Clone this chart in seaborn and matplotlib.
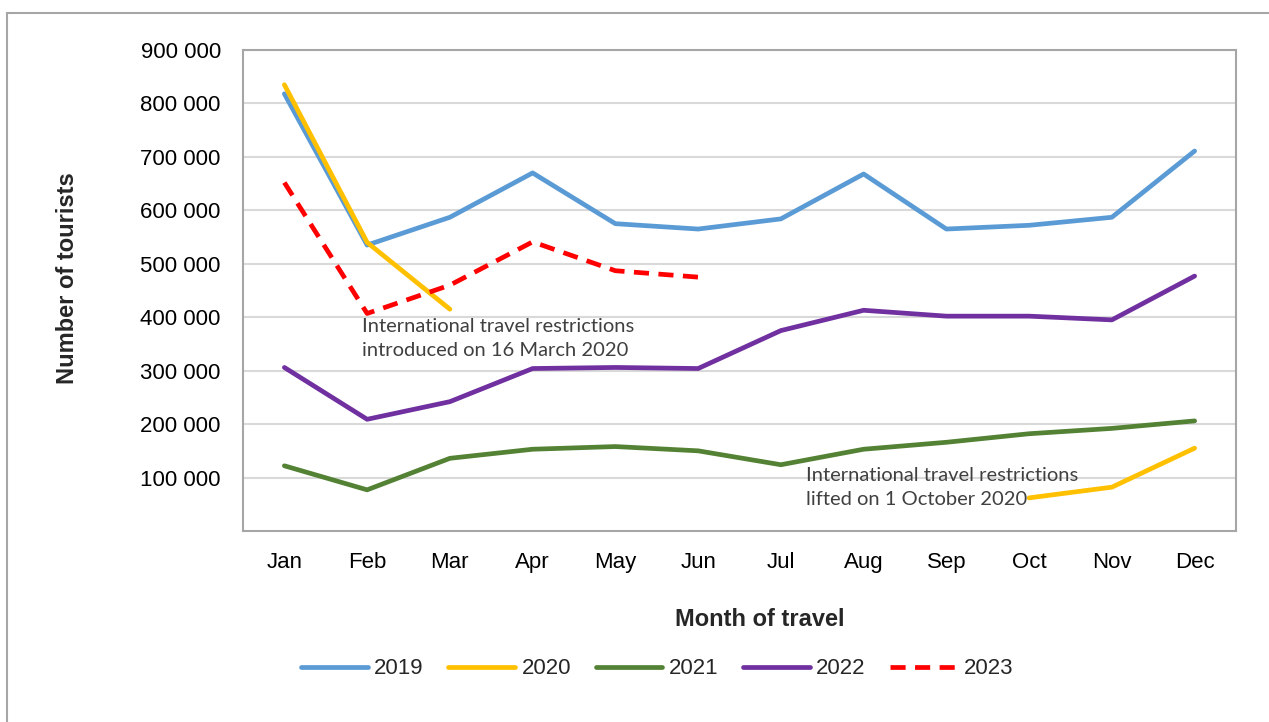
import matplotlib.pyplot as plt
import matplotlib.patches as mpatches
from matplotlib.lines import Line2D
import numpy as np
import pandas as pd
import seaborn as sns

# 月別の観光客数
months = ['Jan', 'Feb', 'Mar', 'Apr', 'May', 'Jun', 'Jul', 'Aug', 'Sep', 'Oct', 'Nov', 'Dec']
years = ['2019', '2020', '2021', '2022', '2023']

tourists_2019 = [818000, 535000, 587000, 670000, 575000, 565000, 584000, 668000, 565000, 572000, 587000, 711000]
tourists_2020 = [835000, 540000, 415000, np.nan, np.nan, np.nan, np.nan, np.nan, np.nan, 62000, 82000, 155000]
tourists_2021 = [122000, 77000, 136000, 153000, 158000, 150000, 124000, 153000, 166000, 182000, 192000, 206000]
tourists_2022 = [306000, 209000, 242000, 304000, 306000, 304000, 375000, 413000, 402000, 402000, 395000, 477000]
tourists_2023 = [652000, 407000, 460000, 541000, 487000, 475000, np.nan, np.nan, np.nan, np.nan, np.nan, np.nan]

series = {
    '2019': tourists_2019,
    '2020': tourists_2020,
    '2021': tourists_2021,
    '2022': tourists_2022,
    '2023': tourists_2023,
}
colors = {'2019': '#5B9BD5', '2020': '#FFC000', '2021': '#548235', '2022': '#7030A0', '2023': '#FF0000'}
dash_2023 = (3.2, 2.0)

# ロング形式に変換（欠損で区切ってセグメント番号を付ける）
rows = []
for year, vals in series.items():
    seg = 0
    prev_nan = False
    for i, v in enumerate(vals):
        if np.isnan(v):
            prev_nan = True
            continue
        if prev_nan:
            seg += 1
            prev_nan = False
        rows.append({'year': year, 'month': i, 'tourists': v, 'seg': f'{year}_{seg}'})
df = pd.DataFrame(rows)

sns.set_style('white')
plt.rcParams['font.family'] = ['Liberation Sans', 'DejaVu Sans']

fig = plt.figure(figsize=(12.69, 7.22), dpi=100)
ax = fig.add_axes([243 / 1269, 1 - 531 / 722, (1236 - 243) / 1269, (531 - 50) / 722])

for seg_id, seg_df in df.groupby('seg', sort=False):
    year = seg_df['year'].iloc[0]
    line_kw = dict(color=colors[year], linewidth=3.4, solid_capstyle='round')
    line_kw['dashes'] = dash_2023 if year == '2023' else ''
    sns.lineplot(data=seg_df, x='month', y='tourists', ax=ax, legend=False, zorder=3, **line_kw)

ax.set_xlim(-0.5, 11.5)
ax.set_ylim(0, 900000)
ax.set_xticks(range(12))
ax.set_xticklabels(months)
ax.set_yticks(np.arange(100000, 900001, 100000))
ax.set_yticklabels([f'{v // 1000} 000' for v in range(100000, 900001, 100000)])
ax.tick_params(axis='both', length=0, labelsize=16, colors='black')
ax.tick_params(axis='y', pad=16)
ax.tick_params(axis='x', pad=15)
ax.set_xlabel('')
ax.set_ylabel('')
ax.grid(axis='y', color='#D9D9D9', linewidth=1.5)
for sp in ax.spines.values():
    sp.set_color('#A6A6A6')
    sp.set_linewidth(1.5)

# 注釈
note_font = ['Lato', 'DejaVu Sans']
ax.text(0.938, 360000, 'International travel restrictions\nintroduced on 16 March 2020',
        fontsize=14.5, family=note_font, color='#404040', va='center', linespacing=1.5)
ax.text(6.30, 80500, 'International travel restrictions\nlifted on 1 October 2020',
        fontsize=14.5, family=note_font, color='#404040', va='center', linespacing=1.5)

# 軸ラベル
fig.text(68 / 1269, 1 - 278 / 722, 'Number of tourists', rotation=90, fontsize=17,
         fontweight='bold', ha='center', va='center')
fig.text(760 / 1269, 1 - 619 / 722, 'Month of travel', fontsize=17,
         fontweight='bold', ha='center', va='center')

# 凡例
handles = []
for year in years:
    ls = (0, dash_2023) if year == '2023' else '-'
    handles.append(Line2D([0], [0], color=colors[year], linewidth=3.4, linestyle=ls, solid_capstyle='round'))
fig.legend(handles, years, loc='center', bbox_to_anchor=(657 / 1269, 1 - 669 / 722), ncol=5,
           frameon=False, fontsize=16, handlelength=3.0, handletextpad=0.3, columnspacing=1.1)

# 外枠
fig.patches.append(mpatches.Rectangle((7 / 1269, -0.05), 1.2, 1 - 13 / 722 + 0.05,
                                      transform=fig.transFigure, fill=False,
                                      edgecolor='#A6A6A6', linewidth=1.5))

fig.savefig('out.png', dpi=100)
